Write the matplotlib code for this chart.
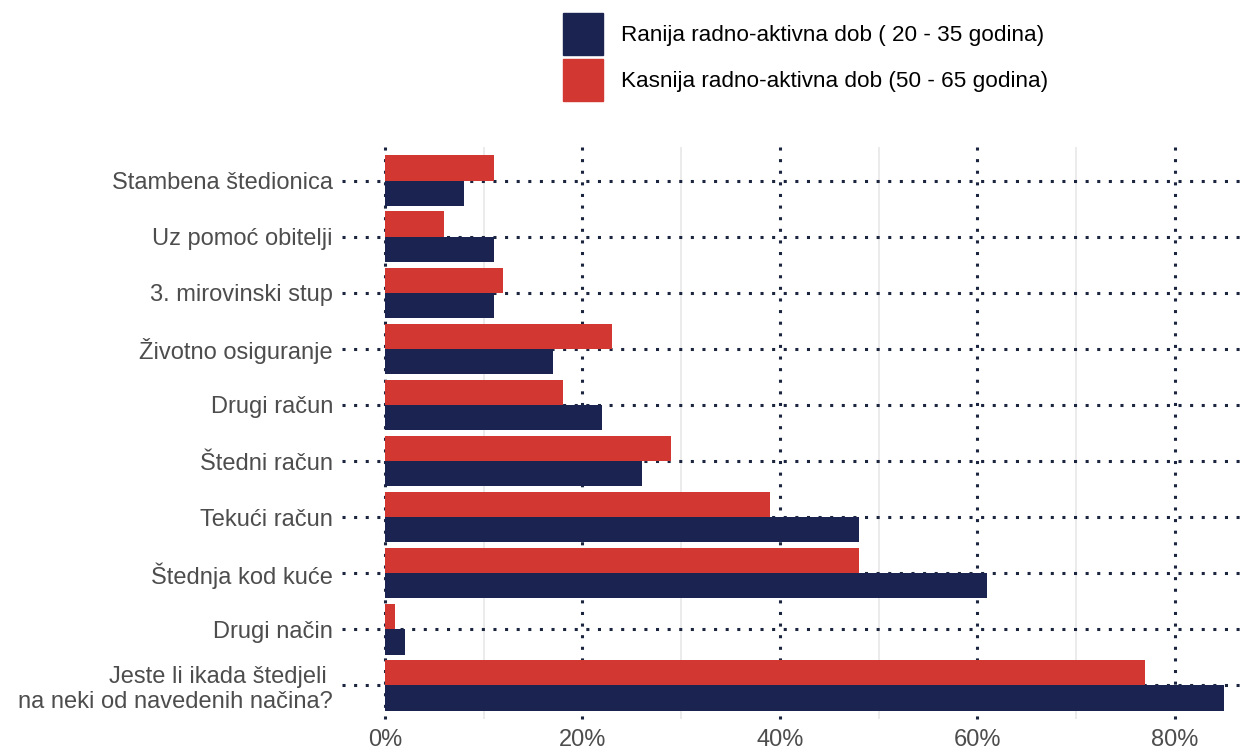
import numpy as np
import matplotlib as mpl
from matplotlib import pyplot as plt
from matplotlib.patches import Rectangle

mpl.rcParams["font.family"] = ["Liberation Sans", "DejaVu Sans"]

categories = [
    "Stambena štedionica",
    "Uz pomoć obitelji",
    "3. mirovinski stup",
    "Životno osiguranje",
    "Drugi račun",
    "Štedni račun",
    "Tekući račun",
    "Štednja kod kuće",
    "Drugi način",
    "Jeste li ikada štedjeli \nna neki od navedenih načina?",
]
ranija = [8, 11, 11, 17, 22, 26, 48, 61, 2, 85]
kasnija = [11, 6, 12, 23, 18, 29, 39, 48, 1, 77]

label_ranija = "Ranija radno-aktivna dob ( 20 - 35 godina)"
label_kasnija = "Kasnija radno-aktivna dob (50 - 65 godina)"

navy = "#1b2350"
red = "#d33731"
grid_dark = "#1c2540"

W, H = 1247, 752
fig = plt.figure(figsize=(W / 100, H / 100), dpi=100)
ax = fig.add_axes([385 / W, 33 / H, 857 / W, 572 / H])

y = np.arange(len(categories))
h = 0.45
dots = (0, (1, 2.8))

# grid (behind bars)
for v in [10, 30, 50, 70]:
    ax.axvline(v, color="#e8e8e8", lw=1.2, zorder=0)
ax.vlines([0, 20, 40, 60, 80], 0, 1, transform=ax.get_xaxis_transform(),
          colors=grid_dark, lw=2.2, linestyles=dots, zorder=0.5,
          clip_on=False)
ax.hlines(y, -0.05, 1, transform=ax.get_yaxis_transform(), colors=grid_dark,
          lw=2.2, linestyles=dots, zorder=0.5, clip_on=False)

ax.barh(y - h / 2, kasnija, height=h, color=red, zorder=2)
ax.barh(y + h / 2, ranija, height=h, color=navy, zorder=2)

ax.set_xlim(0, 86.8)
ax.set_ylim(len(categories) - 0.4, -0.6)
ax.set_yticks(y)
ax.set_yticklabels(categories)
ax.set_xticks([0, 20, 40, 60, 80])
ax.set_xticklabels([f"{v}%" for v in [0, 20, 40, 60, 80]])
ax.tick_params(axis="both", length=0, labelsize=17, labelcolor="#4d4d4d")
ax.tick_params(axis="y", pad=37.5)
ax.tick_params(axis="x", pad=7.5)
for s in ax.spines.values():
    s.set_visible(False)

# legend, drawn by hand to match the key squares
for i, (lab, col) in enumerate([(label_ranija, navy), (label_kasnija, red)]):
    top = 13 + i * 46
    fig.patches.append(Rectangle((563 / W, 1 - (top + 42) / H), 40 / W, 42 / H,
                                 transform=fig.transFigure, color=col))
    fig.text(621 / W, 1 - (top + 22) / H, lab, fontsize=16.2, color="black",
             va="center", ha="left")

fig.savefig("out.png", dpi=100)
plt.close(fig)
